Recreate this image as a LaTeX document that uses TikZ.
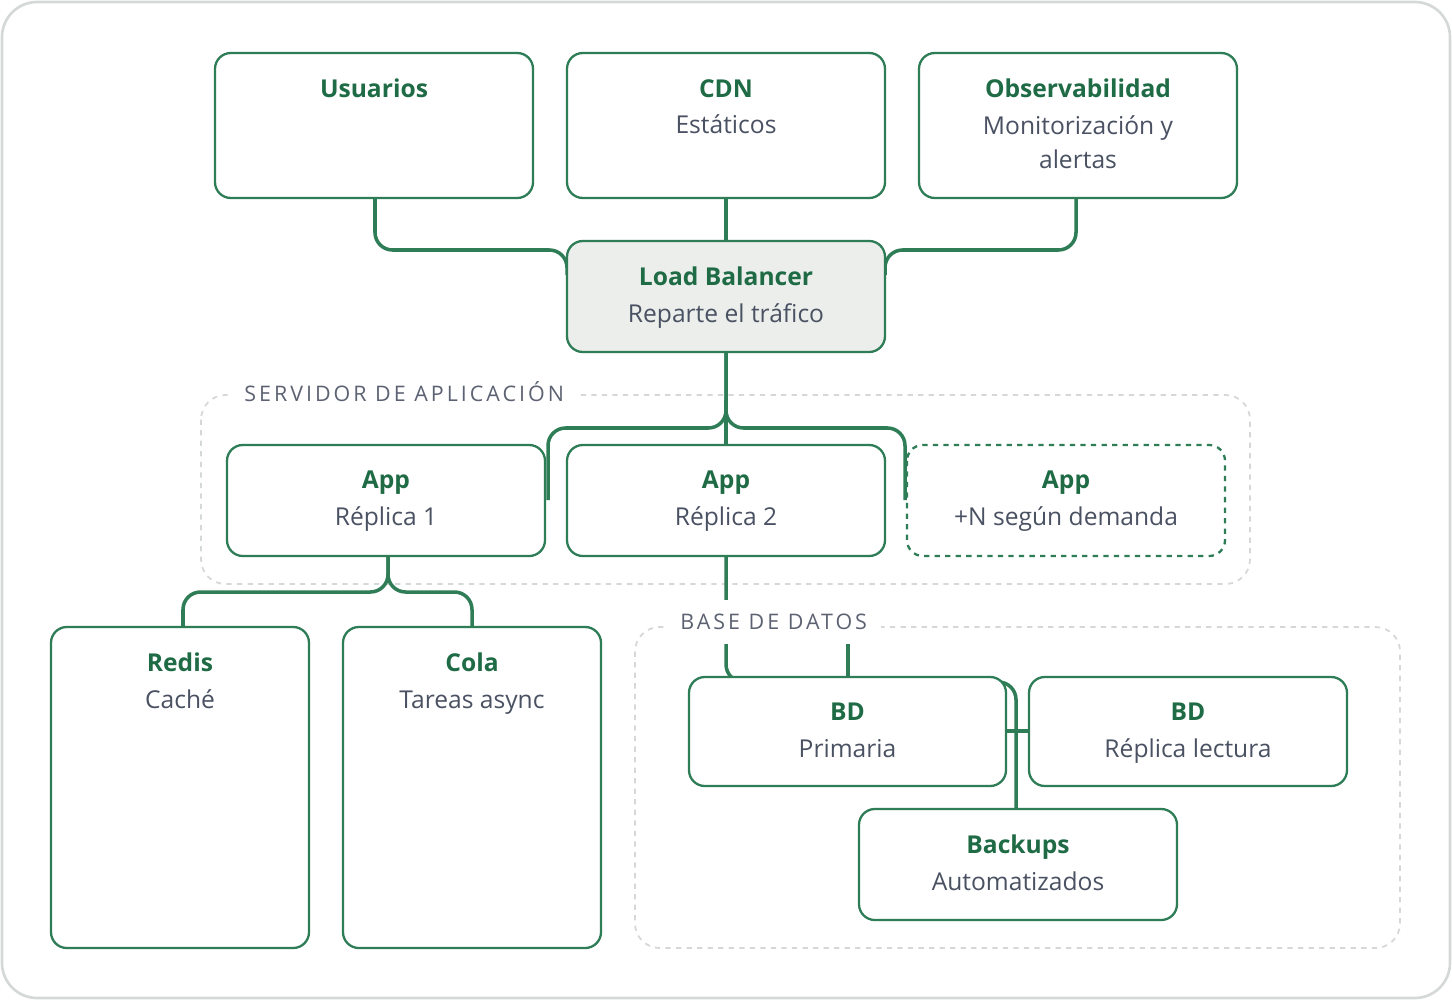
\documentclass[tikz,border=0pt]{standalone}
\usepackage{fontspec}
\setmainfont{Open Sans}
\usepackage{xcolor}
\usepackage{tikz}
\usetikzlibrary{arrows}
\definecolor{deepgreen}{HTML}{2E7D57}
\definecolor{titlegreen}{HTML}{1E6B45}
\definecolor{bodygray}{HTML}{4A5162}
\definecolor{groupgray}{HTML}{D5D9D6}
\definecolor{lbfill}{HTML}{EBEEEA}
\tikzset{
  card/.style={draw=deepgreen, line width=1.3pt, rounded corners=9pt, fill=white},
  grp/.style={draw=groupgray, dashed, line width=1pt, rounded corners=14pt},
  link/.style={draw=deepgreen, line width=2pt, rounded corners=10pt},
  grplabel/.style={fill=white, text=bodygray!90, font=\fontsize{12.2}{14}\selectfont, inner sep=8pt},
  cardlabel/.style={align=center, anchor=north, text=bodygray, font=\fontsize{14}{19}\selectfont},
}
% card: x1, y1, x2, y2, name, title, body, extra style
\newcommand{\mkcard}[8][]{%
  \draw[card,#1] (#2,#3) rectangle (#4,#5);
  \node[cardlabel] (#6) at ({(#2+#4)/2},#3+20) {\textcolor{titlegreen}{\bfseries #7}\\[2pt]#8};
}
\begin{document}
\begin{tikzpicture}[x=0.02cm, y=-0.02cm]
          \useasboundingbox (0,0) rectangle (1452,1000);
          \draw[groupgray, line width=1.5pt, rounded corners=20pt, fill=white] (2,2) rectangle (1450,998);

          % groups
          \draw[grp] (201,395) rectangle (1250,584);
          \draw[grp] (635,627) rectangle (1400,948);

          % connectors
          \draw[link] (375,198) -- (375,250) -- (567,250) -- (567,275);
          \draw[link] (726,198) -- (726,241);
          \draw[link] (1076,198) -- (1076,250) -- (885,250) -- (885,275);
          \draw[link] (726,352) -- (726,428) -- (548,428) -- (548,500);
          \draw[link] (726,352) -- (726,428) -- (905,428) -- (905,500);
          \draw[link] (726,400) -- (726,445);
          \draw[link] (388,556) -- (388,592) -- (183,592) -- (183,627);
          \draw[link] (388,556) -- (388,592) -- (472,592) -- (472,627);
          \draw[link] (726,556) -- (726,682) -- (1016,682) -- (1016,809);
          \draw[link] (848,643) -- (848,677);
          \draw[link] (1006,731) -- (1029,731);

          \node[grplabel, anchor=west] (srvlabel) at (230,392) {\addfontfeature{LetterSpace=14}SERVIDOR DE APLICACIÓN};
          \node[grplabel, anchor=west] (dblabel) at (666,622) {\addfontfeature{LetterSpace=14}BASE DE DATOS};

          % cards
          \mkcard{215}{53}{533}{198}{users}{Usuarios}{}
          \mkcard{567}{53}{885}{198}{cdn}{CDN}{Estáticos}
          \mkcard{919}{53}{1237}{198}{obs}{Observabilidad}{Monitorización y\\alertas}
          \mkcard[fill=lbfill]{567}{241}{885}{352}{lb}{Load Balancer}{Reparte el tráfico}
          \mkcard{227}{445}{545}{556}{appa}{App}{Réplica 1}
          \mkcard{567}{445}{885}{556}{appb}{App}{Réplica 2}
          \mkcard[dashed]{907}{445}{1225}{556}{appn}{App}{+N según demanda}
          \mkcard{51}{627}{309}{948}{redis}{Redis}{Caché}
          \mkcard{343}{627}{601}{948}{cola}{Cola}{Tareas async}
          \mkcard{689}{677}{1006}{786}{dbmain}{BD}{Primaria}
          \mkcard{1029}{677}{1347}{786}{dbrep}{BD}{Réplica lectura}
          \mkcard{859}{809}{1177}{920}{backup}{Backups}{Automatizados}
        \end{tikzpicture}
\end{document}
